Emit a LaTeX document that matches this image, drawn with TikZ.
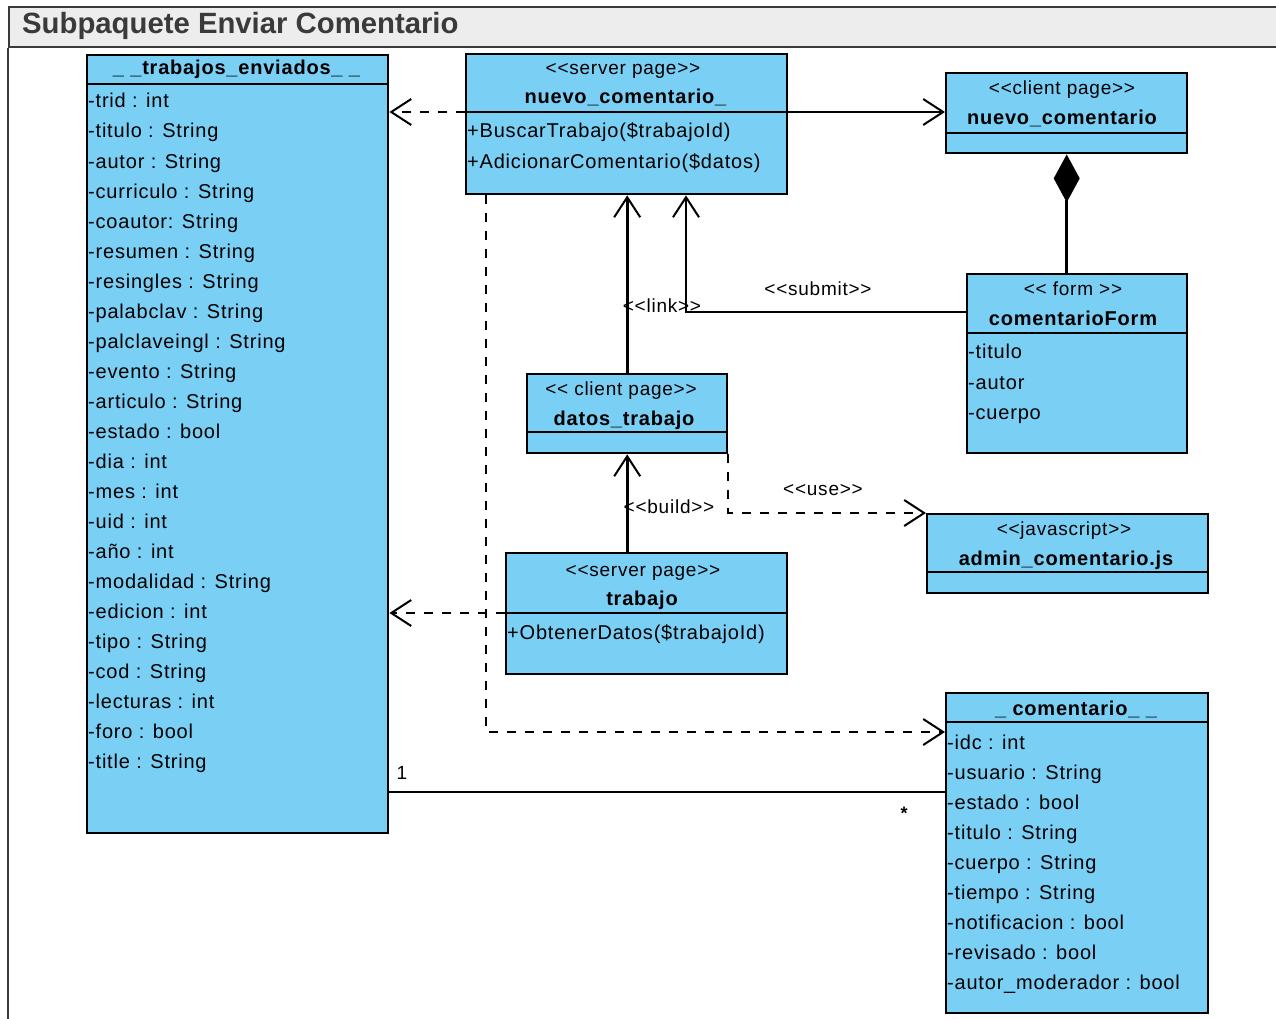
\documentclass[tikz,border=0pt]{standalone}
\usepackage{fontspec}
\setmainfont{Liberation Sans}[Ligatures=TeXOff]
\newfontfamily\umlfont{Liberation Sans}[LetterSpace=4, Ligatures=TeXOff]
\usetikzlibrary{arrows.meta,calc}
\definecolor{clsfill}{RGB}{122,207,245}
\definecolor{barfill}{RGB}{237,237,237}
\definecolor{bartext}{RGB}{58,58,58}
\tikzset{
  cls/.style={draw=black, fill=clsfill, line width=2.4pt, inner sep=0pt, anchor=north west},
  sepline/.style={line width=2pt},
  txt/.style={inner sep=0pt, text height=16pt, text depth=2pt},
  attr/.style={txt, anchor=west, font=\umlfont\fontsize{20}{23}\selectfont},
  stereo/.style={txt, font=\umlfont\fontsize{19}{22}\selectfont},
  cname/.style={txt, font=\umlfont\bfseries\fontsize{20}{23}\selectfont},
  lbl/.style={txt, font=\umlfont\fontsize{19}{22}\selectfont},
  openhead/.style={-{Straight Barb[length=20pt,width=26pt,line width=2pt]}},
  solidc/.style={line width=2.6pt, openhead},
  dashc/.style={line width=2pt, dash pattern=on 9pt off 9pt, openhead},
}
\begin{document}
\begin{tikzpicture}[x=1pt,y=-1pt]
\useasboundingbox (0,0) rectangle (1276,1019);

% package frame and title bar
\node[anchor=north west, minimum width=1290pt, minimum height=40pt, inner sep=0pt,
      draw=bartext, fill=barfill, line width=2pt] (bar) at (8,6) {};
\node[anchor=west, inner sep=0pt, text=bartext, font=\bfseries\fontsize{29.3}{33}\selectfont]
      (title) at (22,26) {Subpaquete Enviar Comentario};
\draw[draw=bartext, line width=2pt] (bar.south west) -- (8,1030);

% class: __trabajos_enviados__
\node[cls, minimum width=301pt, minimum height=778pt] (te) at (86,54) {};
\node[cname] (te-n) at (236.5,68) {\_ \_trabajos\_enviados\_ \_};
\draw[sepline] (te.west |- 0,84) -- (te.east |- 0,84);
\foreach \t [count=\i from 0] in {-trid : int, -titulo : String, -autor : String,
    -curriculo : String, -coautor:  String, -resumen  : String, -resingles : String,
    -palabclav : String, -palclaveingl : String, -evento : String, -articulo :  String,
    -estado : bool, -dia :  int, -mes : int, -uid :  int, -año : int,
    -modalidad :  String, -edicion :  int, -tipo :  String, -cod :  String,
    -lecturas : int, -foro :  bool, -title :  String}
  \node[attr] (te-a\i) at (88,101+30*\i) {\t};

% server page nuevo_comentario_
\node[cls, minimum width=321pt, minimum height=140pt] (nc) at (465,53) {};
\node[stereo] (nc-s) at (623,68) {<<server page>>};
\node[cname] (nc-n) at (625.5,97) {nuevo\_comentario\_};
\draw[sepline] (nc.west |- 0,112) -- (nc.east |- 0,112);
\node[attr] (nc-m1) at (467,131) {+BuscarTrabajo(\$trabajoId)};
\node[attr] (nc-m2) at (467,161) {+AdicionarComentario(\$datos)};

% client page nuevo_comentario
\node[cls, minimum width=241pt, minimum height=80pt] (ncc) at (945,72) {};
\node[stereo] (ncc-s) at (1062,88) {<<client page>>};
\node[cname] (ncc-n) at (1062,118) {nuevo\_comentario};
\draw[sepline] (ncc.west |- 0,133) -- (ncc.east |- 0,133);

% form comentarioForm
\node[cls, minimum width=220pt, minimum height=179pt] (cf) at (966,273) {};
\node[stereo] (cf-s) at (1073,288) {<< form >>};
\node[cname] (cf-n) at (1073,318) {comentarioForm};
\draw[sepline] (cf.west |- 0,333) -- (cf.east |- 0,333);
\node[attr] (cf-a1) at (968,351) {-titulo};
\node[attr] (cf-a2) at (968,382) {-autor};
\node[attr] (cf-a3) at (968,412) {-cuerpo};

% client page datos_trabajo
\node[cls, minimum width=200pt, minimum height=79pt] (dt) at (526,373) {};
\node[stereo] (dt-s) at (621,388) {<< client page>>};
\node[cname] (dt-n) at (624,418) {datos\_trabajo};
\draw[sepline] (dt.west |- 0,432) -- (dt.east |- 0,432);

% server page trabajo
\node[cls, minimum width=281pt, minimum height=121pt] (tr) at (505,552) {};
\node[stereo] (tr-s) at (643,569) {<<server page>>};
\node[cname] (tr-n) at (642,598) {trabajo};
\draw[sepline] (tr.west |- 0,613) -- (tr.east |- 0,613);
\node[attr] (tr-m1) at (507,632) {+ObtenerDatos(\$trabajoId)};

% javascript admin_comentario.js
\node[cls, minimum width=281pt, minimum height=79pt] (aj) at (926,513) {};
\node[stereo] (aj-s) at (1064,528) {<<javascript>>};
\node[cname] (aj-n) at (1066,558) {admin\_comentario.js};
\draw[sepline] (aj.west |- 0,572) -- (aj.east |- 0,572);

% class: _comentario__
\node[cls, minimum width=262pt, minimum height=320pt] (cm) at (945,692) {};
\node[cname] (cm-n) at (1076,708) {\_ comentario\_ \_};
\draw[sepline] (cm.west |- 0,722) -- (cm.east |- 0,722);
\foreach \t [count=\i from 0] in {-idc :  int, -usuario : String, -estado : bool,
    -titulo : String, -cuerpo : String, -tiempo : String, -notificacion : bool,
    -revisado :  bool, -autor\_moderador : bool}
  \node[attr] (cm-a\i) at (947,742+30*\i) {\t};

% connectors
\draw[dashc] (nc.west |- 0,112) -- (te.east |- 0,112);
\draw[solidc] (nc.east |- 0,112) -- (ncc.west |- 0,112);
\draw[line width=2.6pt, {Diamond[length=48pt,width=26pt]}-] (ncc.south) -- (ncc.south |- cf.north);
\draw[solidc] (dt.north) -- (dt.north |- nc.south);
\node[lbl] (l-link) at (662,305) {<<link>>};
\draw[solidc] (cf.west |- 0,312) -| (nc.south -| 686,0);
\node[lbl] (l-submit) at (818,288) {<<submit>>};
\draw[solidc] (tr.north -| dt.north) -- (dt.south);
\node[lbl] (l-build) at (669,506) {<<build>>};
\draw[dashc] (dt.south east) |- (aj.north west);
\node[lbl] (l-use) at (823,488) {<<use>>};
\draw[dashc] (tr.west |- 0,613) -- (te.east |- 0,613);
\draw[dashc] (nc.south -| 486,0) |- (cm.west |- 0,732);
\draw[line width=2.6pt] (te.east |- 0,792) -- (cm.west |- 0,792);
\node[lbl] (m-one) at (402,772) {1};
\node[lbl, font=\bfseries\fontsize{18}{20}\selectfont] (m-many) at (904,812) {*};
\end{tikzpicture}
\end{document}
